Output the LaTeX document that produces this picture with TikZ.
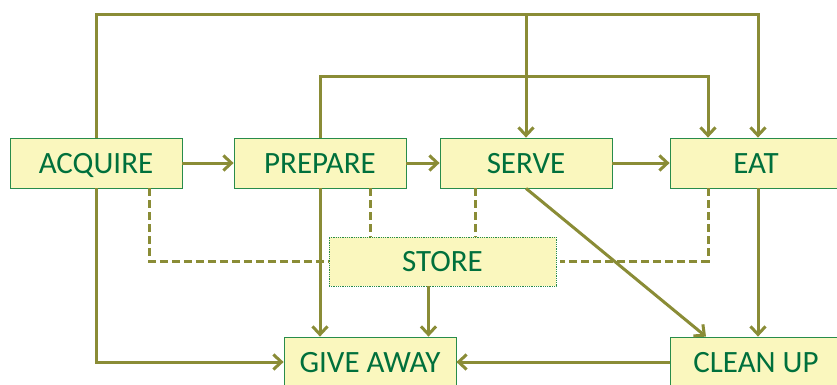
\documentclass[tikz,border=0pt]{standalone}
\usepackage{fontspec}
\setmainfont{Carlito}
\usetikzlibrary{arrows.meta, positioning}
\definecolor{olive}{RGB}{138,140,54}
\definecolor{boxfill}{RGB}{250,247,190}
\definecolor{boxline}{RGB}{40,140,75}
\definecolor{boxtext}{RGB}{0,112,60}

\tikzset{
    stage/.style={draw=boxline, line width=0.8pt, fill=boxfill, text=boxtext,
        minimum width=172pt, minimum height=50pt, inner sep=0pt,
        text height=20pt, text depth=0pt,
        font=\fontsize{31}{36}\selectfont},
    flow/.style={draw=olive, line width=3pt,
        -{Straight Barb[length=8pt, width=15pt, line width=3pt]}},
    storelink/.style={draw=olive, line width=3pt, dash pattern=on 8pt off 4pt}
}

\begin{document}
\begin{tikzpicture}[x=1pt, y=-1pt]
        \useasboundingbox (0,0) rectangle (837,384);
        % stages
        \node[stage] (acquire) at (96,163) {ACQUIRE};
        \node[stage] (prepare) at (320,163) {PREPARE};
        \node[stage] (serve) at (526,163) {SERVE};
        \node[stage] (eat) at (756,163) {EAT};
        \node[stage, minimum width=227pt, minimum height=49pt, densely dotted, line width=0.6pt] (store) at (442.5,261.5) {STORE};
        \node[stage] (giveaway) at (370,362) {GIVE AWAY};
        \node[stage] (cleanup) at (756,362) {CLEAN UP};
        \coordinate (topline) at (0,14);
        \coordinate (midline) at (0,76);
        % main flow
        \draw[flow] (acquire) -- (prepare);
        \draw[flow] (prepare) -- (serve);
        \draw[flow] (serve) -- (eat);
        \draw[flow] (acquire.north) -- (acquire.north |- topline) -| ([xshift=2pt]eat.north);
        \draw[flow] (serve.north |- topline) -- (serve.north);
        \draw[flow] (prepare.north) -- (prepare.north |- midline) -| ([xshift=-48pt]eat.north);
        \draw[flow] (acquire.south) |- (giveaway.west);
        \draw[flow] (prepare.south) -- (prepare.south |- giveaway.north);
        \draw[flow] ([xshift=-14pt]store.south) -- ([xshift=-14pt]store.south |- giveaway.north);
        \draw[flow] (serve.south) -- ([xshift=-50pt]cleanup.north);
        \draw[flow] ([xshift=2pt]eat.south) -- ([xshift=2pt]cleanup.north);
        \draw[flow] (cleanup.west) -- (giveaway.east);
        % storage links
        \draw[storelink] ([xshift=53pt]acquire.south) |- (store.west);
        \draw[storelink] ([xshift=50pt]prepare.south) -- ([xshift=50pt]prepare.south |- store.north);
        \draw[storelink] ([xshift=-51pt]serve.south) -- ([xshift=-51pt]serve.south |- store.north);
        \draw[storelink] ([xshift=-48pt]eat.south) |- ([xshift=4pt]store.east);
\end{tikzpicture}
\end{document}
